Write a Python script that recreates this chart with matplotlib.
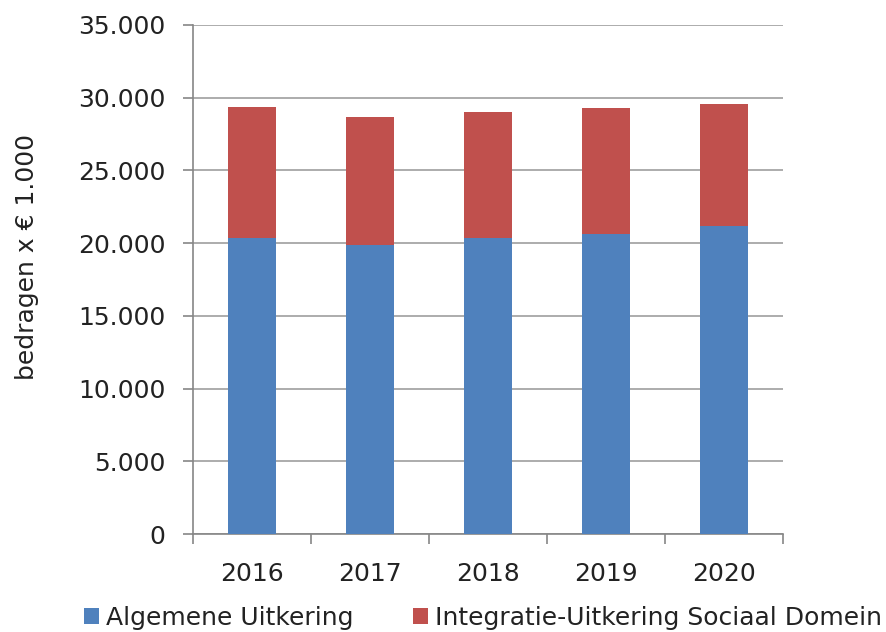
import matplotlib
matplotlib.use("Agg")
import matplotlib.pyplot as plt
from matplotlib.patches import Patch
from matplotlib.ticker import FuncFormatter
import numpy as np

years = ["2016", "2017", "2018", "2019", "2020"]
algemene_uitkering = [20340, 19840, 20340, 20660, 21185]
integratie_uitkering = [9050, 8865, 8660, 8640, 8390]
series_names = ["Algemene Uitkering", "Integratie-Uitkering Sociaal Domein"]
y_ticks = [0, 5000, 10000, 15000, 20000, 25000, 30000, 35000]
y_label = "bedragen x € 1.000"

blue = "#4F81BD"
red = "#C0504D"
grid_c = "#A6A6A6"
axis_c = "#868686"

plt.rcParams["font.family"] = ["DejaVu Sans"]

fig = plt.figure(figsize=(8.86, 6.32), dpi=100)
ax = fig.add_axes([193/886, 1-534/632, (783-193)/886, (534-25)/632])

x = np.arange(len(years))
ax.bar(x, algemene_uitkering, width=0.4, color=blue, zorder=3)
ax.bar(x, integratie_uitkering, width=0.4, bottom=algemene_uitkering, color=red, zorder=3)

ax.set_xlim(-0.5, len(years) - 0.5)
ax.set_ylim(0, 35000)
ax.set_yticks(y_ticks)
ax.yaxis.set_major_formatter(FuncFormatter(lambda v, p: f"{int(v):,}".replace(",", ".")))
ax.set_xticks(x)
ax.set_xticklabels(years)
ax.set_xticks(np.arange(len(years) + 1) - 0.5, minor=True)

ax.grid(axis="y", color=grid_c, linewidth=1.3, zorder=0)
for s in ["top", "right"]:
    ax.spines[s].set_visible(False)
for s in ["left", "bottom"]:
    ax.spines[s].set_color(axis_c)
    ax.spines[s].set_linewidth(1.2)

ax.tick_params(axis="y", which="major", length=7, width=1.2, color=axis_c, labelsize=18, pad=13, labelcolor="#222222")
ax.tick_params(axis="x", which="major", length=0, labelsize=18, pad=20, labelcolor="#222222")
ax.tick_params(axis="x", which="minor", length=7, width=1.2, color=axis_c)

fig.text(27/886, 1-257/632, y_label, rotation=90, ha="center", va="center", fontsize=18, color="#222222")

handles = [Patch(facecolor=blue, edgecolor="none"), Patch(facecolor=red, edgecolor="none")]
fig.legend(handles, series_names, loc="center left", bbox_to_anchor=(84/886, 1-618/632), ncol=2,
           frameon=False, fontsize=18, handlelength=0.6, handleheight=0.6, handletextpad=0.3,
           columnspacing=2.35, borderaxespad=0, borderpad=0, labelcolor="#222222")

fig.savefig("out.png", dpi=100, facecolor="white")
